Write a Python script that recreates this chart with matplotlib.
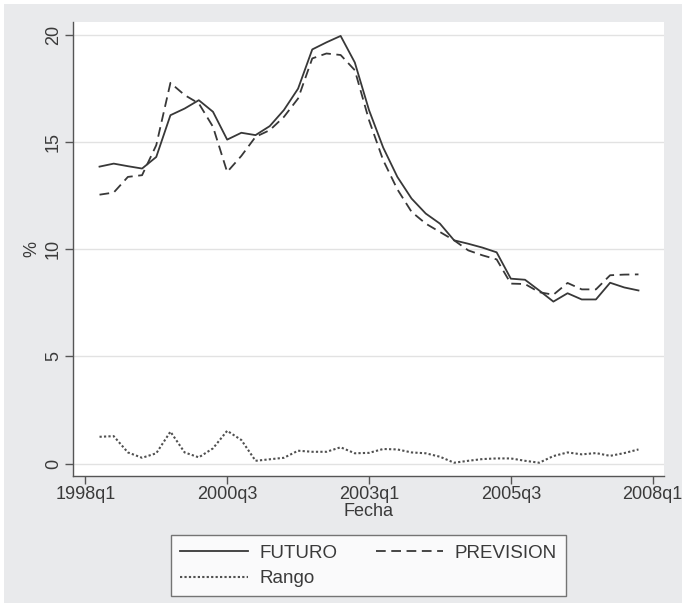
import matplotlib
matplotlib.use("Agg")
import matplotlib.pyplot as plt
from matplotlib.patches import Rectangle

# quarters since 1998q1 (1 = 1998q2 ... 39 = 2007q4)
quarters = list(range(1, 40))

futuro = [13.86, 14.0, 13.88, 13.77, 14.31, 16.26, 16.57, 16.96, 16.42, 15.12,
          15.44, 15.33, 15.75, 16.5, 17.5, 19.33, 19.66, 19.96, 18.72, 16.5,
          14.75, 13.38, 12.37, 11.67, 11.2, 10.42, 10.26, 10.08, 9.86, 8.63,
          8.58, 8.08, 7.56, 7.95, 7.66, 7.66, 8.44, 8.22, 8.08]

prevision = [12.55, 12.65, 13.38, 13.46, 14.86, 17.77, 17.2, 16.81, 15.72, 13.61,
             14.36, 15.25, 15.56, 16.18, 17.04, 18.91, 19.14, 19.07, 18.36, 16.03,
             14.16, 12.8, 11.75, 11.2, 10.81, 10.42, 9.95, 9.72, 9.53, 8.4,
             8.38, 8.0, 7.88, 8.43, 8.13, 8.13, 8.79, 8.82, 8.83]

rango = [1.25, 1.28, 0.52, 0.27, 0.48, 1.49, 0.52, 0.29, 0.71, 1.53,
         1.1, 0.13, 0.2, 0.27, 0.6, 0.55, 0.55, 0.76, 0.48, 0.5,
         0.68, 0.66, 0.52, 0.48, 0.32, 0.04, 0.13, 0.21, 0.24, 0.24,
         0.13, 0.04, 0.35, 0.52, 0.43, 0.49, 0.36, 0.49, 0.66]

xtick_pos = [0, 10, 20, 30, 40]
xtick_labels = ["1998q1", "2000q3", "2003q1", "2005q3", "2008q1"]
ytick_pos = [0, 5, 10, 15, 20]

W, H = 686, 607
ink = "#383838"
txt = "#3a3a3a"

plt.rcParams["font.family"] = ["Liberation Sans", "DejaVu Sans"]
plt.rcParams["lines.scale_dashes"] = False

fig = plt.figure(figsize=(W / 100, H / 100), dpi=100, facecolor="white")
fig.patches.append(Rectangle((4 / W, 4 / H), 678 / W, 599 / H,
                             transform=fig.transFigure, facecolor="#e9eaec",
                             edgecolor="none", zorder=-10))

ax = fig.add_axes([73 / W, 1 - 476 / H, (664 - 73) / W, (476 - 22) / H])
ax.set_facecolor("white")

l_fut, = ax.plot(quarters, futuro, color=ink, lw=1.3, label="FUTURO")
l_pre, = ax.plot(quarters, prevision, color=ink, lw=1.3, dashes=(7, 4),
                 label="PREVISION")
l_ran, = ax.plot(quarters, rango, color="#505050", lw=1.5, dashes=(1.6, 1.6),
                 label="Rango")

ax.set_xlim(-0.87, 40.8)
ax.set_ylim(-0.58, 20.61)
ax.set_xticks(xtick_pos)
ax.set_xticklabels(xtick_labels)
ax.set_yticks(ytick_pos)
ax.set_yticklabels([str(v) for v in ytick_pos], rotation=90, va="center")
ax.grid(axis="y", color="#e2e2e2", lw=1.0)
ax.set_axisbelow(True)

for s in ["top", "right"]:
    ax.spines[s].set_visible(False)
for s in ["left", "bottom"]:
    ax.spines[s].set_color("#555555")
    ax.spines[s].set_linewidth(1.0)
ax.tick_params(axis="both", direction="out", length=6, width=1.0,
               color="#555555", labelcolor=txt, labelsize=13)
ax.tick_params(axis="x", pad=1)
ax.tick_params(axis="y", pad=2)

ax.set_xlabel("Fecha", fontsize=13, color=txt, labelpad=0)
ax.set_ylabel("%", fontsize=13, color=txt, labelpad=3)

# row-wise order: FUTURO, PREVISION / Rango
leg = fig.legend([l_fut, l_ran, l_pre], ["FUTURO", "Rango", "PREVISION"],
                 loc="upper left", ncol=2, mode="expand",
                 bbox_to_anchor=(171 / W, 1 - 599 / H, 395 / W, 64 / H),
                 fontsize=13.5, frameon=True, fancybox=False,
                 handlelength=3.6, handletextpad=0.6, columnspacing=1.6,
                 labelspacing=0.45, borderpad=0.5, borderaxespad=0)
leg.get_frame().set_edgecolor("#555555")
leg.get_frame().set_linewidth(1.0)
for t in leg.get_texts():
    t.set_color(txt)

fig.savefig("out.png", dpi=100, facecolor=fig.get_facecolor())
